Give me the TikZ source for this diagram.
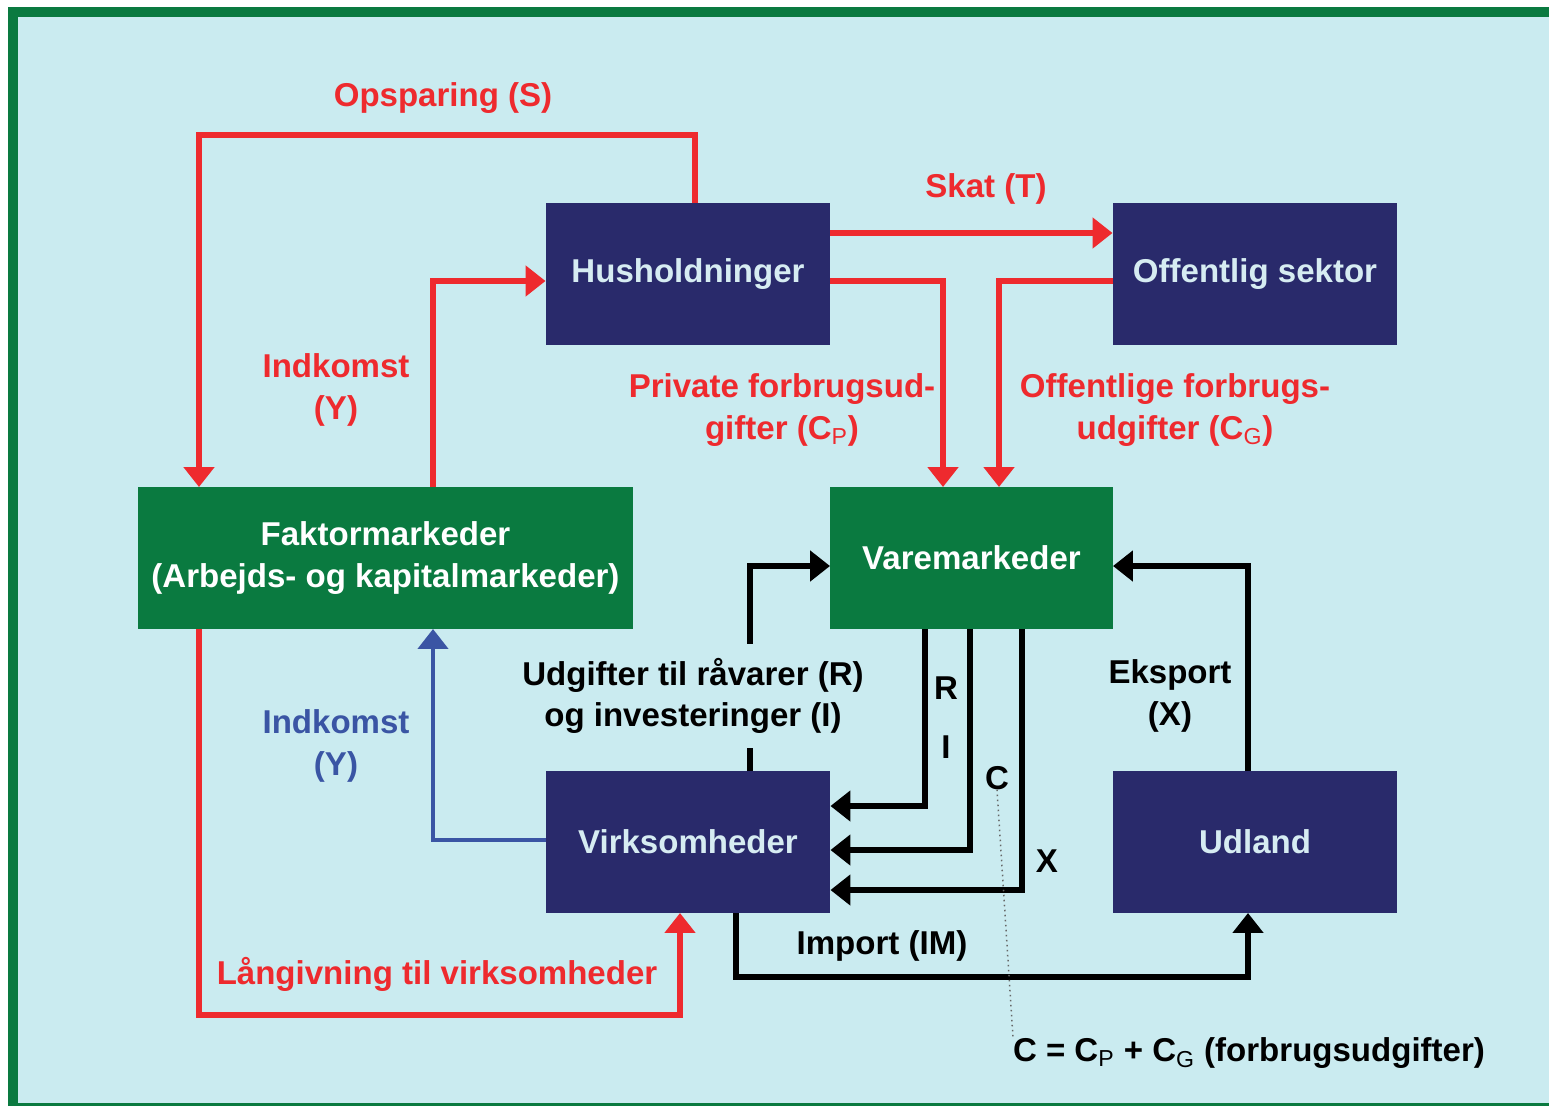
\documentclass[tikz,border=0pt]{standalone}
\usepackage{fontspec}
\setmainfont{Liberation Sans}
\usetikzlibrary{arrows.meta}

\definecolor{navy}{RGB}{41,42,107}
\definecolor{boxgreen}{RGB}{10,122,64}
\definecolor{flowred}{RGB}{238,42,46}
\definecolor{flowblue}{RGB}{58,85,164}
\definecolor{skyback}{RGB}{202,235,240}
\definecolor{paletext}{RGB}{214,236,242}

\begin{document}
\begin{tikzpicture}[x=0.02cm,y=-0.02cm,>={Triangle[length=0.4cm,width=0.6cm]},
  line width=0.11cm,font=\fontsize{18.8}{23.5}\selectfont\bfseries,
  every node/.style={outer sep=0pt},
  sector/.style={rectangle,fill=navy,text=paletext,minimum width=5.7cm,minimum height=2.84cm,inner sep=0pt},
  market/.style={rectangle,fill=boxgreen,text=white,minimum height=2.84cm,inner sep=0pt,align=center},
  flowtext/.style={align=center,inner sep=0pt},
  redflow/.style={draw=flowred,->},
  blackflow/.style={draw=black,->}]

  \useasboundingbox (0,0) rectangle (1549,1106);
  \fill[white] (0,0) rectangle (1549,1106);
  \fill[skyback] (13,12) rectangle (1549,1106);
  \draw[boxgreen,line width=0.2cm] (1549,12) -- (13,12) -- (13,1106);
  \draw[boxgreen,line width=0.06cm] (13,1104) -- (1549,1104);

  \node[sector] (1) at (688,274) {Husholdninger};
  \node[sector] (2) at (1255,274) {Offentlig sektor};
  \node[market,minimum width=9.9cm] (3) at (385.5,558) {Faktormarkeder\\(Arbejds- og kapitalmarkeder)};
  \node[market,minimum width=5.66cm] (4) at (971.5,558) {Varemarkeder};
  \node[sector] (5) at (688,842) {Virksomheder};
  \node[sector] (6) at (1255,842) {Udland};

  %money flows
  \draw[redflow] (1.north -| 695,0) -- (695,135) -| (3.north -| 199,0);
  \draw[redflow] (3.north -| 433,0) |- (1.west |- 0,281);
  \draw[redflow] (1.east |- 0,233) -- (2.west |- 0,233);
  \draw[redflow] (1.east |- 0,281) -| (4.north -| 943,0);
  \draw[redflow] (2.west |- 0,281) -| (4.north -| 999,0);
  \draw[->,draw=flowblue,line width=0.09cm] (5.west |- 0,840) -| (3.south -| 433,0);
  \draw[redflow] (3.south -| 199,0) |- (680,1015) -- (5.south -| 680,0);
  %goods flows
  \draw[blackflow] (5.north -| 750,0) |- (4.west |- 0,566);
  \draw[blackflow] (4.south -| 925,0) |- (5.east |- 0,806);
  \draw[blackflow] (4.south -| 970,0) |- (5.east |- 0,850);
  \draw[blackflow] (4.south -| 1022,0) |- (5.east |- 0,890);
  \draw[blackflow] (6.north -| 1248,0) |- (4.east |- 0,566);
  \draw[blackflow] (5.south -| 736,0) |- (1248,977) -- (6.south -| 1248,0);

  \node[flowtext,text=flowred] (s) at (443,98) {Opsparing (S)};
  \node[flowtext,text=flowred] (t) at (986,189) {Skat (T)};
  \node[flowtext,text=flowred] (yr) at (336,390) {Indkomst\\(Y)};
  \node[flowtext,text=flowred] (cp) at (782,410) {Private forbrugsud-\\gifter (C\textsubscript{\mdseries P})};
  \node[flowtext,text=flowred] (cg) at (1175,410) {Offentlige forbrugs-\\udgifter (C\textsubscript{\mdseries G})};
  \node[flowtext,fill=skyback,inner ysep=8pt] (ri) at (693,696) {Udgifter til råvarer (R)\\og investeringer (I)};
  \node[flowtext,text=flowblue] (yb) at (336,746) {Indkomst\\(Y)};
  \node[flowtext] (r) at (946,688) {R};
  \node[flowtext] (i) at (946,747) {I};
  \node[flowtext] (c) at (997,778) {C};
  \node[flowtext] (x) at (1047,861) {X};
  \node[flowtext] (ex) at (1170,696) {Eksport\\(X)};
  \node[flowtext] (im) at (882,946) {Import (IM)};
  \node[flowtext,text=flowred] (lg) at (437,974) {Långivning til virksomheder};
  \node[flowtext,anchor=west] (cf) at (1013,1053) {C = C\textsubscript{\mdseries P} + C\textsubscript{\mdseries G} (forbrugsudgifter)};

  \draw[dotted,line width=0.03cm,black!60] (c.south) -- (cf.north west);
\end{tikzpicture}
\end{document}
